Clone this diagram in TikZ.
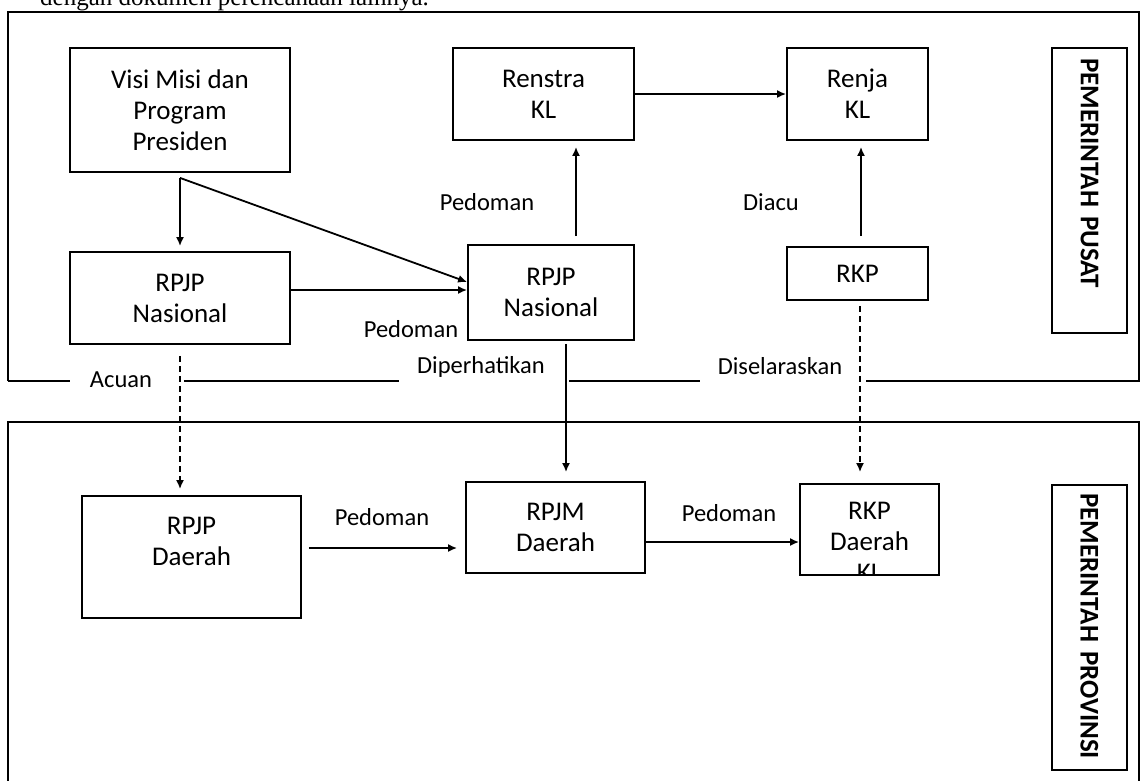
\documentclass[tikz,border=0pt]{standalone}
\usepackage{fontspec}
\setmainfont{Carlito}
\newfontfamily\introfont{Liberation Serif}
\usetikzlibrary{%
  arrows.meta,%
  positioning,%
}

\begin{document}
\begin{tikzpicture}[x=1pt,y=-1pt,
  box/.style={draw, line width=1.8pt, align=center, inner sep=0pt, font=\fontsize{27}{31}\selectfont},
  lbl/.style={font=\fontsize{24.5}{29}\selectfont, inner sep=0pt},
  side/.style={draw, line width=1.8pt, rotate=-90, inner xsep=10pt, inner ysep=0pt, text width=265pt, align=left, minimum height=75pt, font=\fontsize{27}{31}\selectfont\bfseries},
  arr/.style={line width=1.8pt, -{Latex[length=9pt,width=8pt]}},
  darr/.style={arr, dash pattern=on 6pt off 4pt},
  region/.style={line width=2pt}]
\useasboundingbox (0,0) rectangle (1144,780);

\node[font=\introfont\fontsize{25}{29}\selectfont, anchor=base west, inner sep=0pt] (intro) at (40,5) {dengan dokumen perencanaan lainnya.};

% pusat / provinsi
\draw[region] (8,381) -- (8,12) -- (1139,12) -- (1139,381) -- (866,381);
\draw[region] (8,381) -- (70,381) (184,381) -- (399,381) (569,381) -- (700,381);
\draw[region] (8,790) -- (8,422) -- (1139,422) -- (1139,790);

\node[side] (pusat) at (1089.5,190.5) {PEMERINTAH PUSAT};
\node[side, text width=269pt, inner xsep=8pt] (provinsi) at (1089.5,627.5) {PEMERINTAH PROVINSI};

\node[box, minimum width=220pt, minimum height=124pt] (visi) at (180,110) {Visi Misi dan\\Program\\Presiden};
\node[box, minimum width=220pt, minimum height=92pt] (rpjpn) at (180,298) {RPJP\\Nasional};
\node[box, minimum width=181pt, minimum height=92pt] (renstra) at (543.5,94) {Renstra\\KL};
\node[box, minimum width=141pt, minimum height=92pt] (renja) at (857.5,94) {Renja\\KL};
\node[box, minimum width=166pt, minimum height=95pt] (rpjpnm) at (551,292.5) {RPJP\\Nasional};
\node[box, minimum width=141pt, minimum height=53pt] (rkp) at (857.5,273.5) {RKP};

\node[box, minimum width=219pt, minimum height=122pt] (rpjpd) at (191.5,557) {RPJP\\Daerah\\\mbox{}};
\node[box, minimum width=179pt, minimum height=91pt] (rpjmd) at (555.5,527.5) {RPJM\\Daerah};
\node[box, minimum width=139pt, minimum height=91pt] (rkpd) at (869.5,529.5) {};
\begin{scope}
  \clip (rkpd.south west) rectangle (rkpd.north east);
  \node[box, draw=none] (rkpdtxt) at (869.5,542) {RKP\\Daerah\\KL};
\end{scope}

\node[lbl] (pedoman1) at (411,329) {Pedoman};
\node[lbl] (pedoman2) at (487,202) {Pedoman};
\node[lbl] (diacu) at (771,202) {Diacu};
\node[lbl] (acuan) at (121,380) {Acuan};
\node[lbl] (diperhatikan) at (481,367) {Diperhatikan};
\node[lbl] (diselaraskan) at (780,366) {Diselaraskan};
\node[lbl] (pedoman3) at (382,517) {Pedoman};
\node[lbl] (pedoman4) at (729,513) {Pedoman};

\coordinate (fork) at ([yshift=-5pt]visi.south);
\draw[arr] (fork) -- ([yshift=5pt]rpjpn.north);
\draw[arr] (fork) -- ([yshift=10.5pt]rpjpnm.west);
\draw[arr] ([yshift=8pt]rpjpn.east) -- ([yshift=8pt]rpjpn.east -| rpjpnm.west);
\draw[arr] ([xshift=25pt,yshift=8pt]rpjpnm.north) -- ([xshift=32.5pt,yshift=-6pt]renstra.south);
\draw[arr] (renstra) -- (renja);
\draw[arr] ([xshift=3.5pt,yshift=10pt]rkp.north) -- ([xshift=3.5pt,yshift=-6pt]renja.south);
\draw[darr] ([xshift=2.5pt,yshift=-5pt]rkp.south) -- ([xshift=-9.5pt,yshift=11pt]rkpd.north);
\draw[darr] ([yshift=-11pt]rpjpn.south) -- ([xshift=-11.5pt,yshift=6pt]rpjpd.north);
\draw[arr] ([xshift=15pt,yshift=-3pt]rpjpnm.south) -- ([xshift=10.5pt,yshift=9pt]rpjmd.north);
\draw[arr] ([xshift=7pt,yshift=9pt]rpjpd.east) -- ([yshift=-20.5pt,xshift=-8pt]rpjmd.west);
\draw[arr] ([yshift=-14.5pt]rpjmd.east) -- ([yshift=-12.5pt]rkpd.west);
\end{tikzpicture}
\end{document}
